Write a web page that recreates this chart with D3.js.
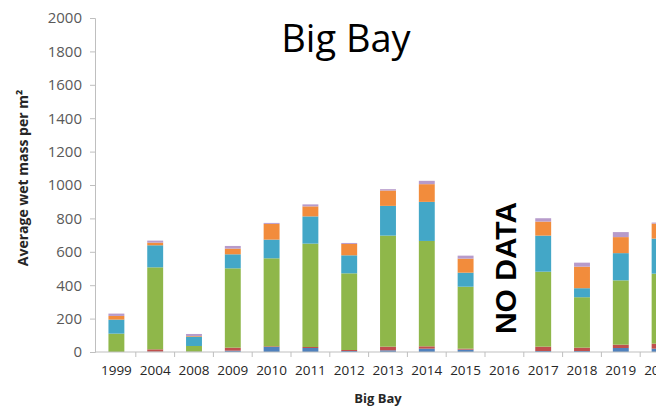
<!DOCTYPE html>
<html>
<head>
<meta charset="utf-8">
<script src="https://cdn.jsdelivr.net/npm/d3@7"></script>
<style>
  html, body { margin: 0; padding: 0; background: #fff; }
  svg { display: block; }
</style>
</head>
<body>
<div id="chart"></div>
<script>
// Survey years along the x axis (2016 was not sampled)
const years = ["1999","2004","2008","2009","2010","2011","2012","2013","2014","2015","2016","2017","2018","2019","2020"];

// Average wet mass per m² for each group, stacked bottom to top
const blueGroup   = [0, 2, 2, 8, 30, 24, 6, 10, 20, 14, 0, 6, 6, 24, 20];
const redGroup    = [0, 14, 0, 18, 4, 6, 6, 22, 14, 6, 0, 26, 20, 20, 30];
const greenGroup  = [110, 491, 34, 475, 527, 619, 459, 665, 631, 371, 0, 449, 302, 385, 419];
const aquaGroup   = [84, 132, 56, 84, 112, 163, 108, 178, 234, 84, 0, 216, 54, 163, 210];
const orangeGroup = [22, 16, 4, 34, 94, 60, 68, 92, 106, 84, 0, 84, 129, 96, 90];
const purpleGroup = [14, 12, 12, 16, 6, 12, 6, 8, 20, 18, 0, 20, 24, 30, 6];

const seriesNames  = ["blue", "red", "green", "aqua", "orange", "purple"];
const seriesValues = [blueGroup, redGroup, greenGroup, aquaGroup, orangeGroup, purpleGroup];
const seriesColors = ["#4F81BD", "#C0504D", "#8FB74A", "#43A7C7", "#F28C3C", "#B79BCB"];

const yTicks = [0, 200, 400, 600, 800, 1000, 1200, 1400, 1600, 1800, 2000];

const width = 656, height = 411;
const axisX = 95;
const plotTop = 18, plotBottom = 352;

const rows = years.map((yr, i) => {
  const r = { year: yr };
  seriesNames.forEach((s, k) => { r[s] = seriesValues[k][i]; });
  return r;
});

const svg = d3.select("#chart").append("svg")
  .attr("width", width).attr("height", height);

const x = d3.scaleBand()
  .domain(years)
  .range([97, 97 + years.length * 38.8])
  .paddingInner(0.59)
  .paddingOuter(0.295);

const y = d3.scaleLinear().domain([0, 2000]).range([plotBottom, plotTop]);

// Title
svg.append("text")
  .attr("x", 346).attr("y", 52)
  .attr("text-anchor", "middle")
  .attr("font-family", "'Open Sans', sans-serif")
  .attr("font-size", 38)
  .attr("fill", "#000")
  .text("Big Bay");

// Stacked bars
const stack = d3.stack().keys(seriesNames);
const layers = stack(rows);

svg.append("g").selectAll("g")
  .data(layers)
  .join("g")
  .attr("fill", (d, i) => seriesColors[i])
  .selectAll("rect")
  .data(d => d)
  .join("rect")
  .attr("x", d => x(d.data.year))
  .attr("width", x.bandwidth())
  .attr("y", d => y(d[1]))
  .attr("height", d => y(d[0]) - y(d[1]));

// Y axis
const yAxis = d3.axisLeft(y).tickValues(yTicks).tickFormat(d3.format("d")).tickSize(5).tickPadding(8);
const gy = svg.append("g").attr("transform", `translate(${axisX},0)`).call(yAxis);
gy.select(".domain").attr("stroke", "#BFBFBF");
gy.selectAll(".tick line").attr("stroke", "#BFBFBF");
gy.selectAll(".tick text")
  .attr("font-family", "'Open Sans', sans-serif")
  .attr("font-size", 15)
  .attr("fill", "#595959");

// X axis: baseline with tick marks between categories
const gx = svg.append("g");
gx.append("line")
  .attr("x1", axisX).attr("x2", x.range()[1])
  .attr("y1", plotBottom).attr("y2", plotBottom)
  .attr("stroke", "#BFBFBF");
const step = x.step();
gx.selectAll("line.sep")
  .data(years)
  .join("line")
  .attr("class", "sep")
  .attr("x1", d => x(d) + x.bandwidth() / 2 + step / 2)
  .attr("x2", d => x(d) + x.bandwidth() / 2 + step / 2)
  .attr("y1", plotBottom).attr("y2", plotBottom + 5)
  .attr("stroke", "#BFBFBF");
gx.selectAll("text")
  .data(years)
  .join("text")
  .attr("x", d => x(d) + x.bandwidth() / 2)
  .attr("y", 375)
  .attr("text-anchor", "middle")
  .attr("font-family", "'Open Sans', sans-serif")
  .attr("font-size", 13.5)
  .attr("fill", "#262626")
  .text(d => d);

// Axis titles
svg.append("text")
  .attr("x", 378).attr("y", 403)
  .attr("text-anchor", "middle")
  .attr("font-family", "'Open Sans', sans-serif")
  .attr("font-weight", "bold")
  .attr("font-size", 13)
  .attr("fill", "#262626")
  .text("Big Bay");

svg.append("text")
  .attr("transform", "translate(28,178) rotate(-90)")
  .attr("text-anchor", "middle")
  .attr("font-family", "'Open Sans', sans-serif")
  .attr("font-weight", "bold")
  .attr("font-size", 14)
  .attr("fill", "#262626")
  .text("Average wet mass per m²");

// Missing-year note
const noDataX = x("2016") + x.bandwidth() / 2;
svg.append("text")
  .attr("transform", `translate(${noDataX + 12},268) rotate(-90)`)
  .attr("text-anchor", "middle")
  .attr("font-family", "'Liberation Sans', Arial, sans-serif")
  .attr("font-weight", "bold")
  .attr("font-size", 30)
  .attr("fill", "#000")
  .text("NO DATA");
</script>
</body>
</html>
